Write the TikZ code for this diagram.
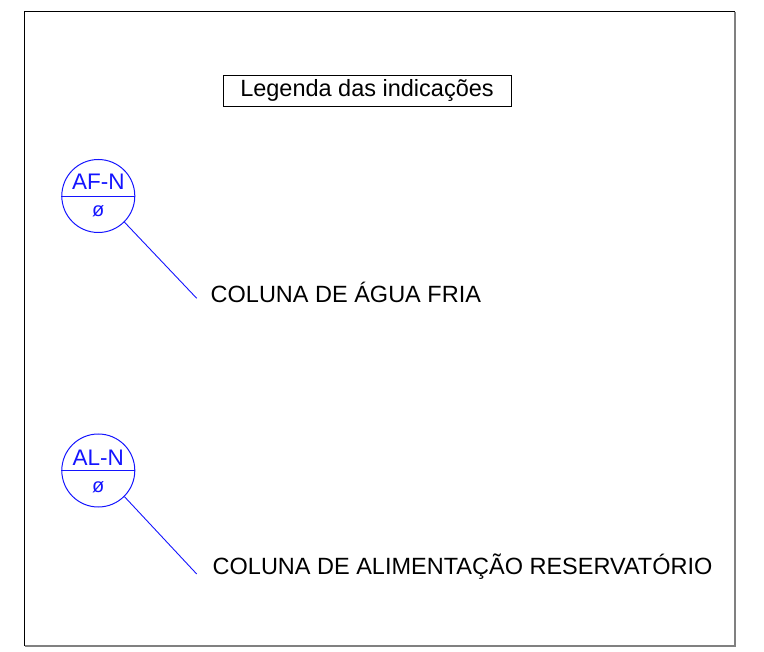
\documentclass[tikz,border=0pt]{standalone}
\usepackage{fontspec}
\setmainfont{Liberation Sans}
\definecolor{cadblue}{RGB}{20,20,255}
\definecolor{frameshade}{RGB}{128,128,128}
\tikzset{
  tag/.style={circle,draw=cadblue,line width=1pt,minimum size=73pt,inner sep=0pt},
  tagtext/.style={text=cadblue,inner sep=0pt,font=\fontsize{22.5}{26}\selectfont},
  diamtext/.style={text=cadblue,inner sep=0pt,font=\fontsize{20}{24}\selectfont},
  leader/.style={draw=cadblue,line width=0.9pt},
  desc/.style={inner sep=0pt,anchor=base west,font=\fontsize{23.5}{27}\selectfont},
  legendbox/.style={draw=black,line width=0.9pt,minimum width=288pt,minimum height=31pt,inner sep=0pt,font=\fontsize{23.5}{27}\selectfont}
}
\begin{document}
\begin{tikzpicture}[x=1pt,y=-1pt]
\useasboundingbox (0,0) rectangle (764,652);
% frame
\coordinate (fTL) at (24.5,11.8);
\coordinate (fTR) at (735,11.8);
\coordinate (fBR) at (735,646);
\coordinate (fBL) at (24.5,646);
\draw[line width=1.4pt,frameshade] (fTR) -- (fBR) -- (fBL);
\draw[line width=1pt,black] (fBL) -- (fTL) -- (fTR);
% legend title
\node[legendbox] (legend) at (367,90.5) {Legenda das indica\c{c}\~oes};
% first tag
\node[tag] (c1) at (98.3,196) {};
\draw[cadblue,line width=0.9pt] (c1.west) -- (c1.east);
\node[tagtext] (t1) at (98.3,181.3) {AF-N};
\node[diamtext] (d1) at (98.3,211) {ø};
\coordinate (e1) at (196.7,298.3);
\draw[leader] (c1.-45) -- (e1);
\node[desc] (l1) at (210.5,303) {COLUNA DE ÁGUA FRIA};
% second tag
\node[tag] (c2) at (98.3,470.5) {};
\draw[cadblue,line width=0.9pt] (c2.west) -- (c2.east);
\node[tagtext] (t2) at (98.3,457.3) {AL-N};
\node[diamtext] (d2) at (98.3,487.5) {ø};
\coordinate (e2) at (196.7,574);
\draw[leader] (c2.-45) -- (e2);
\node[desc] (l2) at (212.5,575) {COLUNA DE ALIMENTAÇÃO RESERVATÓRIO};
\end{tikzpicture}
\end{document}
